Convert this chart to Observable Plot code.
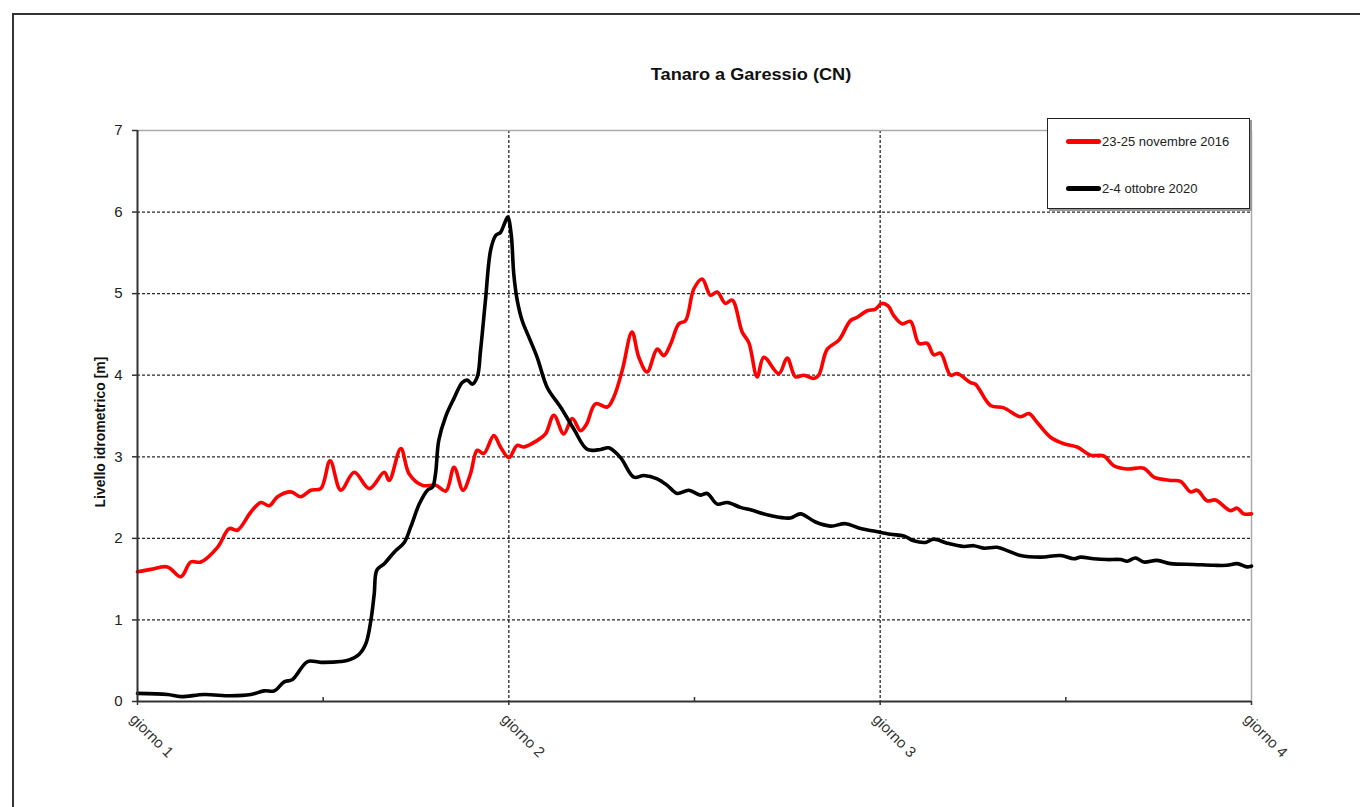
<!DOCTYPE html>
<html>
<head>
<meta charset="utf-8">
<script src="https://cdn.jsdelivr.net/npm/d3@7"></script>
<script src="https://cdn.jsdelivr.net/npm/@observablehq/plot@0.6"></script>
<style>
  html, body { margin: 0; padding: 0; background: #fff; overflow: hidden; width: 1360px; height: 807px; font-family: "Liberation Sans", Arial, sans-serif; }
  #frame { position: absolute; left: 12px; top: 13px; width: 2000px; height: 2000px; border-left: 2px solid #333; border-top: 2px solid #333; }
  #chart { position: absolute; left: 0; top: 0; }
  #title { position: absolute; left: 751px; top: 65px; transform: translateX(-50%) scaleX(1.1); font-weight: bold; font-size: 16.5px; color: #111; white-space: nowrap; }
  #legend { position: absolute; left: 1047px; top: 118px; width: 201px; height: 89px; border: 1.5px solid #222; background: #fff; box-shadow: 2px 2px 0 #999; }
  .item { position: absolute; left: 18px; height: 16px; display: flex; align-items: center; font-size: 13px; color: #222; white-space: nowrap; }
  .swatch { width: 35px; height: 5px; margin-right: 1px; border-radius: 2.5px; }
</style>
</head>
<body>
<div id="frame"></div>
<div id="chart"></div>
<div id="title"></div>
<div id="legend"></div>
<script>
// ---- data ----
const chartTitle = "Tanaro a Garessio (CN)";
const yLabel = "Livello idrometrico [m]";
const seriesNames = ["23-25 novembre 2016", "2-4 ottobre 2020"];
const seriesColors = ["#ff0000", "#000000"];
const dayTicks = [0, 24, 48, 72];           // hours from start
const dayLabels = ["giorno 1", "giorno 2", "giorno 3", "giorno 4"];
const halfDayTicks = [12, 36, 60];
const yTicks = [0, 1, 2, 3, 4, 5, 6, 7];
const gridY = [1, 2, 3, 4, 5, 6];
const gridX = [24, 48];

// 23-25 novembre 2016 (hours, level m)
const redHours = [0, 0.86, 1.94, 2.8, 3.44, 4.09, 5.17, 5.93, 6.46, 7.32, 7.97, 8.51, 9.05, 9.91, 10.55, 11.2, 11.85, 12.45, 13.14, 14.01, 14.98, 15.95, 16.27, 17.02, 17.56, 18.42, 19.28, 19.93, 20.46, 21.04, 21.52, 21.96, 22.38, 23.03, 23.46, 24.0, 24.54, 24.97, 25.83, 26.37, 26.91, 27.55, 28.1, 28.63, 29.02, 29.6, 30.36, 30.78, 31.33, 31.96, 32.4, 32.94, 33.59, 34.02, 34.45, 34.99, 35.42, 35.96, 36.5, 37.03, 37.47, 38.0, 38.44, 39.08, 39.51, 40.05, 40.48, 41.45, 41.99, 42.53, 43.07, 43.71, 44.03, 44.58, 45.33, 46.08, 46.52, 47.16, 47.7, 48.09, 48.51, 48.88, 49.42, 49.96, 50.5, 51.04, 51.47, 51.9, 52.55, 52.98, 53.84, 54.16, 55.13, 55.99, 57.07, 57.61, 58.15, 59.01, 59.87, 60.73, 61.59, 62.45, 63.1, 63.97, 65.04, 65.69, 66.77, 67.41, 68.06, 68.49, 69.14, 69.67, 70.64, 71.07, 71.5, 72.0];
const redLevel = [1.59, 1.62, 1.65, 1.53, 1.71, 1.71, 1.89, 2.12, 2.1, 2.32, 2.44, 2.4, 2.51, 2.57, 2.51, 2.59, 2.61, 2.95, 2.59, 2.81, 2.61, 2.81, 2.71, 3.1, 2.79, 2.65, 2.65, 2.58, 2.87, 2.59, 2.79, 3.08, 3.04, 3.26, 3.12, 2.99, 3.14, 3.12, 3.2, 3.28, 3.51, 3.28, 3.47, 3.32, 3.4, 3.65, 3.61, 3.73, 4.06, 4.53, 4.22, 4.04, 4.32, 4.24, 4.38, 4.63, 4.67, 5.06, 5.18, 4.98, 5.02, 4.88, 4.92, 4.53, 4.4, 3.98, 4.22, 4.02, 4.21, 3.98, 4.0, 3.96, 4.0, 4.32, 4.43, 4.67, 4.71, 4.79, 4.81, 4.88, 4.85, 4.73, 4.63, 4.66, 4.39, 4.39, 4.25, 4.27, 4.0, 4.02, 3.91, 3.89, 3.63, 3.6, 3.49, 3.53, 3.42, 3.24, 3.16, 3.12, 3.02, 3.01, 2.89, 2.85, 2.86, 2.75, 2.71, 2.7, 2.57, 2.59, 2.46, 2.47, 2.34, 2.37, 2.3, 2.3];

// 2-4 ottobre 2020 (hours, level m)
const blackHours = [0, 1.94, 2.8, 4.31, 6.03, 7.32, 8.19, 8.84, 9.48, 10.02, 10.99, 11.85, 13.14, 13.68, 14.33, 14.76, 15.08, 15.3, 15.47, 15.95, 16.59, 17.24, 17.66, 18.21, 18.74, 19.07, 19.26, 19.47, 19.91, 20.44, 20.99, 21.31, 21.63, 21.96, 22.17, 22.49, 22.82, 23.14, 23.46, 23.72, 23.93, 24.15, 24.32, 24.54, 24.86, 25.29, 25.83, 26.48, 27.34, 28.2, 29.07, 29.93, 30.46, 31.22, 32.08, 32.72, 33.59, 34.24, 34.88, 35.63, 36.39, 36.82, 37.47, 38.11, 38.97, 39.62, 40.91, 42.2, 42.85, 43.82, 44.79, 45.76, 46.73, 47.59, 48.67, 49.53, 50.17, 50.93, 51.47, 52.33, 53.41, 54.05, 54.7, 55.56, 56.21, 57.07, 58.36, 59.66, 60.52, 60.95, 61.81, 62.67, 63.53, 63.97, 64.5, 65.04, 65.9, 66.77, 68.27, 69.56, 70.42, 71.07, 71.71, 72.0];
const blackLevel = [0.1, 0.085, 0.06, 0.085, 0.07, 0.085, 0.13, 0.13, 0.24, 0.27, 0.49, 0.48, 0.49, 0.51, 0.58, 0.71, 0.99, 1.32, 1.61, 1.69, 1.83, 1.95, 2.14, 2.42, 2.59, 2.63, 2.79, 3.2, 3.49, 3.71, 3.91, 3.94, 3.89, 3.98, 4.3, 4.92, 5.53, 5.71, 5.75, 5.86, 5.94, 5.73, 5.24, 4.92, 4.67, 4.47, 4.22, 3.85, 3.61, 3.34, 3.09, 3.09, 3.11, 2.99, 2.75, 2.77, 2.73, 2.65, 2.55, 2.59, 2.53, 2.55, 2.42, 2.44, 2.38, 2.35, 2.28, 2.25, 2.3, 2.2, 2.15, 2.18, 2.12, 2.09, 2.05, 2.03, 1.97, 1.95, 1.99, 1.94, 1.9, 1.91, 1.88, 1.89, 1.85, 1.79, 1.77, 1.79, 1.75, 1.77, 1.75, 1.74, 1.74, 1.72, 1.76, 1.71, 1.73, 1.69, 1.68, 1.67, 1.67, 1.69, 1.65, 1.66];

// ---- build ----
const red = redHours.map((h, i) => ({h, v: redLevel[i]}));
const black = blackHours.map((h, i) => ({h, v: blackLevel[i]}));

const plot = Plot.plot({
  width: 1360,
  height: 807,
  marginLeft: 137,
  marginRight: 109,
  marginTop: 130,
  marginBottom: 106,
  style: {background: "transparent", fontFamily: "'Liberation Sans', Arial, sans-serif", color: "#222", overflow: "visible"},
  x: {domain: [0, 72]},
  y: {domain: [0, 7]},
  marks: [
    Plot.gridY(gridY, {stroke: "#000", strokeOpacity: 0.85, strokeWidth: 1.3, strokeDasharray: "3,2"}),
    Plot.gridX(gridX, {stroke: "#000", strokeOpacity: 0.85, strokeWidth: 1.3, strokeDasharray: "3,2"}),
    Plot.ruleY([7], {stroke: "#aaa", strokeWidth: 1.5}),
    Plot.ruleX([72], {stroke: "#aaa", strokeWidth: 1.5}),
    Plot.axisY({ticks: yTicks, tickSize: 5, tickPadding: 10, fontSize: 15, tickFormat: d => String(d), label: null, stroke: "#333", strokeWidth: 1.5, fill: "#222"}),
    Plot.axisX({ticks: dayTicks, tickSize: 4, tickFormat: () => "", label: null, stroke: "#333", strokeWidth: 1.5}),
    Plot.axisX({ticks: halfDayTicks, tickSize: -4, tickFormat: () => "", label: null, stroke: "#333", strokeWidth: 1.5}),
    Plot.text(dayTicks, {x: d => d, text: (d, i) => dayLabels[i], frameAnchor: "bottom", rotate: 45, textAnchor: "start", lineAnchor: "top", dx: -1, dy: 11, fontSize: 15, fill: "#333"}),
    Plot.text([yLabel], {frameAnchor: "left", rotate: -90, textAnchor: "middle", dx: -37, dy: 16, fontSize: 14, fontWeight: "bold", fill: "#111"}),
    Plot.line(red, {x: "h", y: "v", stroke: seriesColors[0], strokeWidth: 3.6, curve: "catmull-rom"}),
    Plot.line(black, {x: "h", y: "v", stroke: seriesColors[1], strokeWidth: 3.6, curve: "catmull-rom"}),
    Plot.ruleX([0], {stroke: "#333", strokeWidth: 2}),
    Plot.ruleY([0], {stroke: "#333", strokeWidth: 2})
  ]
});
document.getElementById("chart").appendChild(plot);
document.getElementById("title").textContent = chartTitle;

const legend = document.getElementById("legend");
const legendTops = [14, 61];
seriesNames.forEach((name, i) => {
  const item = document.createElement("div");
  item.className = "item";
  item.style.top = legendTops[i] + "px";
  const sw = document.createElement("div");
  sw.className = "swatch";
  sw.style.background = seriesColors[i];
  item.appendChild(sw);
  const t = document.createElement("span");
  t.textContent = name;
  item.appendChild(t);
  legend.appendChild(item);
});
</script>
</body>
</html>
